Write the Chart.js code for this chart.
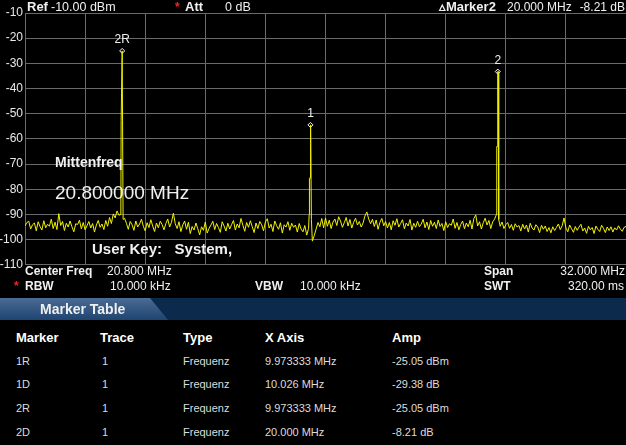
<!DOCTYPE html>
<html>
<head>
<meta charset="utf-8">
<script src="https://cdn.jsdelivr.net/npm/chart.js@4.4.0/dist/chart.umd.min.js"></script>
<style>
  body { margin:0; background:#000; width:626px; height:445px; overflow:hidden; position:relative;
         font-family:"Liberation Sans", Arial, sans-serif; color:#fff; }
  #wrap { position:absolute; left:0; top:0; width:631px; height:274px; }
  .t { position:absolute; white-space:nowrap; font-size:12px; line-height:14px; color:#f0f0f0; }
  .b { font-weight:bold; }
  .red { color:#ff2020; font-weight:bold; }
  #tabbar { position:absolute; left:0; top:298px; width:626px; height:22px; background:#0c2a4c; }
  #tab { position:absolute; left:0; top:298px; width:168px; height:22px;
         background:linear-gradient(#4a6c94, #1e4470); clip-path:polygon(0 0, 150px 0, 168px 22px, 0 22px); }
  .th { position:absolute; font-weight:bold; font-size:13px; color:#fff; }
  .td { position:absolute; font-size:11px; color:#dcdcdc; }
</style>
</head>
<body>
<div id="wrap"><canvas id="myChart"></canvas></div>

<!-- header line -->
<div class="t b" style="left:27px;top:0px;font-size:13px">Ref</div>
<div class="t" style="left:51px;top:0px;font-size:12.5px">-10.00 dBm</div>
<div class="t red" style="left:175px;top:0px">*</div>
<div class="t b" style="left:185px;top:0px;font-size:13px">Att</div>
<div class="t" style="left:225px;top:0px;font-size:12.5px">0 dB</div>
<div class="t b" style="left:439px;top:0px;font-size:13px">&#9653;Marker2</div>
<div class="t" style="left:507px;top:0px;font-size:12px">20.000 MHz</div>
<div class="t" style="right:1px;top:0px;font-size:12px">-8.21 dB</div>

<!-- overlay texts inside plot -->
<div class="t b" style="left:55px;top:155px;font-size:14px">Mittenfreq</div>
<div class="t" style="left:55px;top:182px;font-size:19px;line-height:22px">20.800000 MHz</div>
<div class="t b" style="left:92px;top:240px;font-size:15px;line-height:17px">User Key:&nbsp;&nbsp; System,</div>

<!-- settings lines -->
<div class="t b" style="left:25px;top:264px;font-size:12px">Center Freq</div>
<div class="t" style="left:107px;top:264px;font-size:12px">20.800 MHz</div>
<div class="t b" style="left:484px;top:264px;font-size:12px">Span</div>
<div class="t" style="right:1px;top:264px;font-size:12px">32.000 MHz</div>
<div class="t red" style="left:14px;top:279px">*</div>
<div class="t b" style="left:25px;top:279px;font-size:12px">RBW</div>
<div class="t" style="left:110px;top:279px;font-size:12px">10.000 kHz</div>
<div class="t b" style="left:255px;top:279px;font-size:12px">VBW</div>
<div class="t" style="left:300px;top:279px;font-size:12px">10.000 kHz</div>
<div class="t b" style="left:484px;top:279px;font-size:12px">SWT</div>
<div class="t" style="right:2px;top:279px;font-size:12px">320.00 ms</div>

<div id="tabbar"></div>
<div id="tab"></div>
<div class="t b" style="left:40px;top:301px;font-size:14px;line-height:16px">Marker Table</div>
<div id="table"></div>

<script>
// trace: 321 points from 4.8 MHz to 36.8 MHz (0.1 MHz step)
const startFreq = 4.8;
const stepFreq = 0.1;
const noiseLevels = [
  -94.6,-93.2,-92.7,-95.8,-94.1,-93.4,-96.5,-92.9,-94.8,-96.2,-92.5,-95.3,-93.9,-94.7,-91.9,-95.6,-93.1,-96.0,-89.7,-94.4,
  -92.8,-96.4,-93.5,-95.0,-92.6,-94.9,-96.9,-93.7,-94.0,-92.3,-95.7,-93.2,-96.1,-94.5,-92.8,-95.4,-93.6,-97.0,-94.2,-92.4,
  -95.1,-93.8,-96.0,-92.4,-94.7,-91.2,-93.6,-89.8,-91.4,-88.6,-90.3,-87.2,-88.0,-91.5,-93.5,-95.9,-92.8,-94.1,-96.3,-92.6,
  -95.0,-93.8,-91.9,-94.7,-96.5,-93.3,-95.2,-92.1,-94.6,-96.8,-93.4,-95.3,-92.7,-94.0,-96.1,-93.6,-91.8,-95.0,-93.1,-89.5,
  -93.7,-95.6,-92.9,-96.8,-94.2,-92.6,-95.9,-93.1,-97.6,-94.8,-96.2,-93.4,-95.7,-98.1,-94.9,-96.3,-93.0,-97.4,-95.5,-94.2,
  -92.7,-96.0,-93.6,-95.2,-97.1,-92.9,-94.6,-96.6,-93.5,-95.8,-94.0,-92.4,-96.2,-93.8,-95.3,-91.6,-94.3,-96.7,-93.2,-95.1,
  -92.5,-94.9,-97.2,-93.4,-95.6,-92.8,-94.1,-96.5,-93.0,-91.7,-95.4,-93.9,-96.8,-92.6,-94.5,-95.9,-93.3,-97.4,-94.1,-95.0,
  -92.9,-96.3,-93.5,-95.1,-94.2,-97.0,-93.6,-95.8,-96.9,-94.4,-98.2,-95.5,-96.0,-100.6,-98.4,-95.8,-93.2,-94.9,-91.6,-95.3,
  -91.4,-94.7,-92.3,-95.6,-93.0,-91.8,-94.4,-90.9,-92.6,-95.1,-93.3,-91.2,-94.6,-92.0,-95.4,-93.1,-91.5,-94.2,-92.8,-95.0,
  -93.4,-90.6,-89.0,-91.8,-93.7,-91.9,-94.8,-92.2,-95.9,-93.1,-91.6,-94.5,-92.8,-95.4,-93.2,-96.1,-92.5,-94.3,-91.7,-95.0,
  -93.6,-92.1,-95.7,-93.4,-94.6,-92.0,-96.2,-93.5,-95.1,-92.7,-94.9,-93.8,-91.9,-95.3,-93.0,-96.0,-92.4,-94.7,-93.1,-95.6,
  -92.2,-94.8,-93.6,-96.4,-92.9,-95.2,-93.7,-94.3,-91.8,-95.5,-93.2,-96.1,-94.0,-92.6,-95.7,-93.4,-94.9,-92.3,-95.8,-91.6,
  -90.2,-94.6,-92.9,-95.8,-93.3,-91.5,-94.2,-92.4,-95.6,-93.0,-91.9,-94.0,-92.0,-94.7,-93.0,-95.6,-94.1,-93.2,-95.5,-94.0,
  -96.3,-93.7,-95.0,-94.4,-96.6,-93.9,-95.8,-94.2,-97.0,-93.5,-95.4,-96.2,-94.1,-95.0,-97.2,-94.3,-95.9,-94.6,-96.8,-95.2,
  -97.3,-94.9,-96.4,-95.1,-93.8,-96.0,-94.5,-91.4,-95.3,-96.9,-94.2,-95.7,-97.1,-94.8,-96.3,-95.0,-93.9,-96.6,-95.4,-97.5,
  -94.7,-96.1,-95.2,-97.6,-94.6,-95.9,-96.8,-94.3,-95.5,-97.2,-95.0,-96.4,-94.9,-97.0,-95.3,-96.2,-94.5,-95.8,-96.7,-95.1,
  -94.8
];

// signals (MHz, dBm)
const peakFreqs = [9.973333, 19.999333, 29.973333];
const peakLevels = [-25.05, -54.43, -33.26];
const shoulderLevels = [-52.8, -75.6, -63.0];

// markers
const markerNames = ['2R', '1', '2'];
const markerFreqs = [9.973333, 19.999333, 29.973333];
const markerLevels = [-25.05, -54.43, -33.26];

const yTicks = [-10, -20, -30, -40, -50, -60, -70, -80, -90, -100, -110];

// marker table
const tableHead = ['Marker', 'Trace', 'Type', 'X Axis', 'Amp'];
const tableRows = [
  ['1R', '1', 'Frequenz', '9.973333 MHz', '-25.05 dBm'],
  ['1D', '1', 'Frequenz', '10.026 MHz', '-29.38 dB'],
  ['2R', '1', 'Frequenz', '9.973333 MHz', '-25.05 dBm'],
  ['2D', '1', 'Frequenz', '20.000 MHz', '-8.21 dB']
];

// build trace points
let trace = [];
for (let i = 0; i < noiseLevels.length; i++) {
  let f = startFreq + i * stepFreq;
  let near = peakFreqs.some(p => Math.abs(p - f) < 0.09);
  if (!near) trace.push({x: f, y: noiseLevels[i]});
}
for (let k = 0; k < peakFreqs.length; k++) {
  let f = peakFreqs[k];
  trace.push({x: f - 0.07, y: -90});
  trace.push({x: f - 0.055, y: shoulderLevels[k]});
  trace.push({x: f - 0.02, y: shoulderLevels[k]});
  trace.push({x: f, y: peakLevels[k]});
  trace.push({x: f + 0.015, y: peakLevels[k]});
  trace.push({x: f + 0.05, y: -92});
}
trace.sort((a, b) => a.x - b.x);

let markers = [];
for (let k = 0; k < markerNames.length; k++) {
  markers.push({x: markerFreqs[k], y: markerLevels[k]});
}

const markerLabels = {
  id: 'markerLabels',
  afterDatasetsDraw(chart) {
    const meta = chart.getDatasetMeta(1);
    const c = chart.ctx;
    c.save();
    c.fillStyle = '#f0f0f0';
    c.font = '12px "Liberation Sans", Arial';
    c.textAlign = 'center';
    c.textBaseline = 'bottom';
    meta.data.forEach((pt, i) => {
      c.fillText(markerNames[i], pt.x, pt.y - 5);
    });
    c.restore();
  }
};

const ctx = document.getElementById('myChart');
new Chart(ctx, {
  type: 'line',
  data: {
    datasets: [{
      data: trace,
      borderColor: '#f2f200',
      borderWidth: 1,
      pointRadius: 0,
      tension: 0,
      fill: false
    }, {
      data: markers,
      showLine: false,
      pointStyle: 'rectRot',
      pointRadius: 2.5,
      borderColor: '#ffffff',
      borderWidth: 1,
      backgroundColor: '#000000'
    }]
  },
  options: {
    responsive: true,
    maintainAspectRatio: false,
    animation: false,
    layout: { padding: { top: 13, right: 1, bottom: 2, left: 0 } },
    plugins: { legend: { display: false }, tooltip: { enabled: false } },
    scales: {
      x: {
        type: 'linear',
        min: 4.8,
        max: 36.8,
        ticks: { display: false, stepSize: 3.2 },
        afterBuildTicks: (s) => { s.ticks = []; for (let i = 0; i <= 10; i++) s.ticks.push({value: 4.8 + i * 3.2}); },
        grid: { color: '#6a6a6a', drawTicks: false },
        border: { color: '#6a6a6a' }
      },
      y: {
        min: -110,
        max: -10,
        afterBuildTicks: (s) => { s.ticks = yTicks.map(v => ({value: v})); },
        afterFit: (s) => { s.width = 25; },
        ticks: { color: '#e8e8e8', font: { size: 12, family: 'Liberation Sans' }, padding: 2 },
        grid: { color: '#6a6a6a', drawTicks: false },
        border: { color: '#6a6a6a' }
      }
    }
  },
  plugins: [markerLabels]
});

// marker table
const colX = [16, 100, 183, 265, 392];
const rowY = [355, 378, 402, 426];
let html = '';
tableHead.forEach((h, j) => {
  html += '<div class="th" style="left:' + colX[j] + 'px;top:330px">' + h + '</div>';
});
tableRows.forEach((r, i) => {
  r.forEach((v, j) => {
    html += '<div class="td" style="left:' + (colX[j] + (j == 1 ? 2 : 0)) + 'px;top:' + rowY[i] + 'px">' + v + '</div>';
  });
});
document.getElementById('table').innerHTML = html;
</script>
</body>
</html>
